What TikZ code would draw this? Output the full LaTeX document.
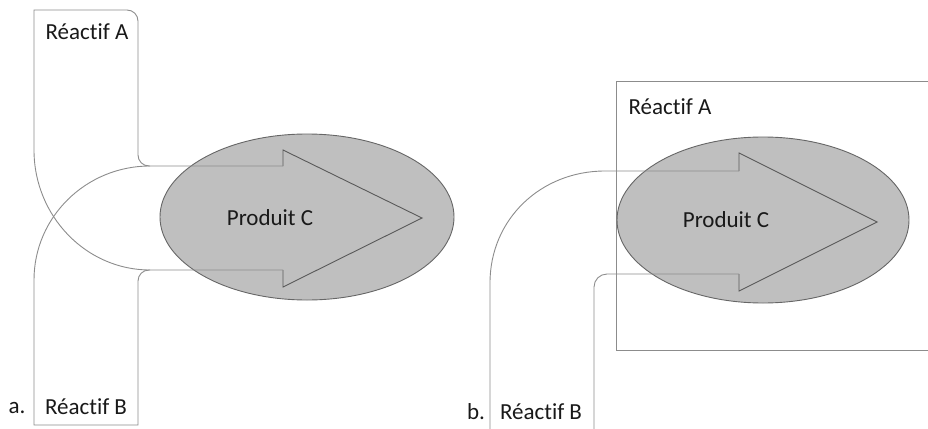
\documentclass[tikz,border=0pt]{standalone}
\usepackage{fontspec}
\setmainfont{Carlito}[Ligatures={NoCommon}]
\tikzset{
    flow/.style = {draw=black!45, line width=0.9pt},
    headline/.style = {draw=black!65, line width=0.9pt},
    blob/.style = {draw=black!60, fill=black!25, line width=0.9pt},
    lbl/.style = {draw=none, inner sep=0pt, font=\fontsize{23}{26}\selectfont, text=black!90}
}
\begin{document}
\begin{tikzpicture}[x=1pt,y=-1pt]
    \useasboundingbox (0,0) rectangle (928,428);

    % a.
    \path[blob] (307,217) ellipse [x radius=147, y radius=83];
    \draw[headline] (283,166) -- (283,150) -- (422,218) -- (283,287) -- (283,270);
    \draw[flow] (283,166) -- (150,166) [rounded corners=11pt] -- (138,166) -- (138,10)
        [sharp corners] -- (34,10) -- (34,150) .. controls (34,216) and (86,270) .. (150,270) -- (283,270);
    \draw[flow] (150,166) .. controls (86,166) and (34,217) .. (34,280) -- (34,425) -- (138,425)
        [rounded corners=11pt] -- (138,270) -- (150,270);
    \node[lbl] (RAa) at (87,32) {Réactif A};
    \node[lbl] (RBa) at (86,407) {Réactif B};
    \node[lbl] (PCa) at (270,218) {Produit C};
    \node[lbl] (la) at (17,408) {a.};

    % b.
    \draw[flow] (930,81) -- (616,81) -- (616,350) -- (930,350);
    \path[blob] (763,220) ellipse [x radius=146, y radius=83];
    \draw[headline] (739,171) -- (739,153) -- (877,222) -- (739,291) -- (739,274);
    \draw[flow] (490,430) -- (490,283) .. controls (490,219) and (541,171) .. (605,171) -- (739,171);
    \draw[flow] (739,274) [rounded corners=13pt] -- (594,274) -- (594,430);
    \node[lbl] (RAb) at (670,107) {Réactif A};
    \node[lbl] (RBb) at (541,412) {Réactif B};
    \node[lbl] (PCb) at (726,220) {Produit C};
    \node[lbl] (lb) at (476,412) {b.};
\end{tikzpicture}
\end{document}
